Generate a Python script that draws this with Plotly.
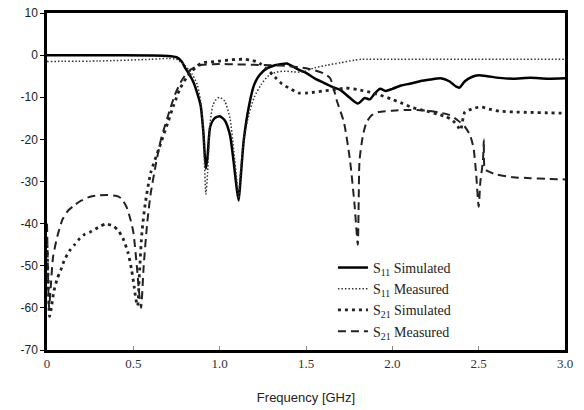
import plotly.graph_objects as go

# S11 Simulated (solid)
f_s11_sim = [0, 0.3, 0.6, 0.7, 0.75, 0.78, 0.8, 0.83, 0.85, 0.87, 0.89, 0.905, 0.92, 0.93, 0.945, 0.97, 1.0, 1.03,
             1.06, 1.08, 1.1, 1.11, 1.12, 1.14, 1.17, 1.2, 1.23, 1.27, 1.32, 1.36, 1.39, 1.42, 1.46, 1.5, 1.55,
             1.6, 1.65, 1.7, 1.75, 1.8, 1.84, 1.87, 1.9, 1.93, 1.96, 2.0, 2.05, 2.1, 2.16, 2.22, 2.28, 2.33,
             2.37, 2.39, 2.42, 2.46, 2.5, 2.55, 2.62, 2.7, 2.8, 2.9, 3.0]
s11_sim = [0, 0, -0.1, -0.2, -0.5, -1.5, -3, -5, -6.6, -9, -12, -18, -27, -24, -17, -15, -14.5, -15.5,
           -19, -25, -32, -34.5, -30, -20, -12, -7, -4.8, -3.2, -2.4, -2.1, -2.0, -2.6, -3.5, -4.2, -5.5,
           -6.5, -7.5, -8.3, -10, -11.5, -10.2, -10.5, -9, -8, -8.5, -8, -7.2, -6.8, -6.2, -5.8, -5.5, -6.2,
           -7.5, -7.7, -6.2, -5.2, -4.8, -5.0, -5.4, -5.6, -5.4, -5.6, -5.5]

# S11 Measured (fine dots)
f_s11_meas = [0, 0.3, 0.6, 0.7, 0.75, 0.8, 0.84, 0.87, 0.89, 0.905, 0.92, 0.93, 0.945, 0.96, 0.98, 1.0, 1.03,
              1.06, 1.08, 1.1, 1.11, 1.12, 1.14, 1.17, 1.2, 1.24, 1.28, 1.33, 1.38, 1.43, 1.48, 1.55, 1.62,
              1.7, 1.78, 1.82, 2.0, 2.5, 3.0]
s11_meas = [-1.5, -1.4, -1.0, -0.8, -1.0, -2.5, -4.5, -7, -11, -18, -33, -28, -16, -12, -10.5, -10, -11,
            -15, -22, -30, -34, -28, -20, -14, -10, -7, -5, -4, -3.8, -4, -4, -3, -2.4,
            -1.8, -1.2, -1.0, -1.0, -1.0, -1.0]

# S21 Simulated (heavy dots)
f_s21_sim = [0, 0.008, 0.015, 0.025, 0.04, 0.06, 0.08, 0.1, 0.13, 0.16, 0.19, 0.22, 0.25, 0.3, 0.34, 0.38,
             0.41, 0.44, 0.47, 0.49, 0.505, 0.515, 0.525, 0.535, 0.55, 0.57, 0.6, 0.65, 0.7, 0.73, 0.77,
             0.81, 0.84, 0.87, 0.9, 0.95, 1.0, 1.05, 1.1, 1.15, 1.18, 1.21, 1.24, 1.28, 1.32, 1.36, 1.41,
             1.46, 1.5, 1.55, 1.6, 1.67, 1.73, 1.8, 1.87, 1.93, 2.0, 2.06, 2.12, 2.2, 2.26, 2.31, 2.35,
             2.38, 2.395, 2.42, 2.46, 2.51, 2.56, 2.62, 2.7, 2.8, 2.9, 3.0]
s21_sim = [-45, -55, -62, -60, -56, -53, -51, -48.7, -46.5, -45, -43.5, -42.5, -42, -40.8, -40.1, -40.5,
           -41.5, -43.5, -47, -51, -55, -58, -59.5, -52, -42, -35, -28, -22, -16, -12.3, -8,
           -5.2, -3.8, -2.5, -1.8, -1.6, -1.4, -1.2, -1.0, -1.0, -1.2, -1.5, -2.2, -3.5, -5.2, -6.8, -8,
           -9, -9, -8.8, -8.5, -8.2, -7.8, -8.2, -8.8, -9.5, -10.5, -11.5, -12.5, -13.3, -14, -14.6, -15.5,
           -17, -17.8, -13.5, -12.8, -12.3, -12.8, -13.3, -13.5, -13.6, -13.7, -13.8]

# S21 Measured (long dashes)
f_s21_meas = [0, 0.004, 0.008, 0.012, 0.02, 0.035, 0.06, 0.09, 0.12, 0.16, 0.2, 0.25, 0.3, 0.35, 0.4, 0.43,
              0.46, 0.48, 0.5, 0.52, 0.535, 0.545, 0.56, 0.58, 0.6, 0.63, 0.66, 0.7, 0.74, 0.78, 0.82, 0.86,
              0.9, 1.0, 1.1, 1.2, 1.3, 1.4, 1.48, 1.55, 1.6, 1.64, 1.68, 1.72, 1.755, 1.78, 1.8, 1.805,
              1.81, 1.83, 1.85, 1.88, 1.92, 2.0, 2.1, 2.2, 2.27, 2.33, 2.38, 2.42, 2.45, 2.47, 2.485, 2.5,
              2.51, 2.525, 2.53, 2.535, 2.55, 2.6, 2.7, 2.8, 2.9, 3.0]
s21_meas = [-40, -48, -56, -60, -56, -48, -43, -39, -37, -35.6, -34.5, -33.6, -33.3, -33.2, -33.4, -34,
            -36, -38.5, -42, -50, -57, -60, -50, -40, -33, -26, -20, -14.5, -9.5, -6, -3.8, -2.8,
            -2.3, -2.1, -2.2, -2.3, -2.4, -2.6, -3, -3.6, -4.3, -5.5, -11, -16, -25, -35, -45, -35,
            -25, -19, -16, -14.3, -13.5, -13.2, -13, -13.2, -13.6, -14.2, -15.5, -17, -19, -22, -28, -36,
            -30, -25, -20, -27, -27.5, -28.3, -29, -29.2, -29.4, -29.5]

y_ticks = [10, 0, -10, -20, -30, -40, -50, -60, -70]
y_ticktext = ["10", "0", "-10", "-20", "-30", "-40", "-50", "-60", "-70"]
x_ticks = [0, 0.5, 1.0, 1.5, 2.0, 2.5, 3.0]
x_ticktext = ["0", "0.5", "1.0", "1.5", "2.0", "2.5", "3.0"]

fig = go.Figure()
fig.add_trace(go.Scatter(x=f_s11_sim, y=s11_sim, mode="lines", name="S<sub>11</sub> Simulated",
                         line=dict(color="black", width=2.5, shape="spline", smoothing=0.6)))
fig.add_trace(go.Scatter(x=f_s11_meas, y=s11_meas, mode="lines", name="S<sub>11</sub> Measured",
                         line=dict(color="#333", width=1.5, dash="1.5px,2px", shape="spline", smoothing=0.6)))
fig.add_trace(go.Scatter(x=f_s21_sim, y=s21_sim, mode="lines", name="S<sub>21</sub> Simulated",
                         line=dict(color="#222", width=2.8, dash="3px,4px", shape="spline", smoothing=0.6)))
fig.add_trace(go.Scatter(x=f_s21_meas, y=s21_meas, mode="lines", name="S<sub>21</sub> Measured",
                         line=dict(color="#222", width=2, dash="8px,5px", shape="spline", smoothing=0.6)))

fig.update_layout(
    width=584, height=410,
    margin=dict(l=47, r=19, t=13, b=60, autoexpand=False),
    paper_bgcolor="white", plot_bgcolor="white",
    showlegend=True,
    legend=dict(x=0.552, y=0.291, xanchor="left", yanchor="top",
                font=dict(family="Liberation Serif", size=14, color="#222"),
                bgcolor="rgba(0,0,0,0)", itemwidth=30, tracegroupgap=0),
    xaxis=dict(range=[0, 3], tickvals=x_ticks, ticktext=x_ticktext, automargin=False,
               showline=True, linecolor="black", linewidth=2.5, mirror=True,
               ticks="inside", ticklen=4, tickcolor="#888", showgrid=False, zeroline=False,
               tickfont=dict(family="Liberation Serif", size=13, color="#333"),
               title=dict(text="Frequency [GHz]", font=dict(family="Liberation Sans", size=13, color="#222"),
                          standoff=23)),
    yaxis=dict(range=[-70, 10], tickvals=y_ticks, ticktext=y_ticktext, automargin=False,
               showline=True, linecolor="black", linewidth=2.5, mirror=True,
               ticks="outside", ticklen=4, tickcolor="black", showgrid=False, zeroline=False,
               tickfont=dict(family="Liberation Sans", size=12, color="#222")),
)

fig.write_html("out.html", config={"displayModeBar": False},
               post_script="document.body.style.margin='0px';")
